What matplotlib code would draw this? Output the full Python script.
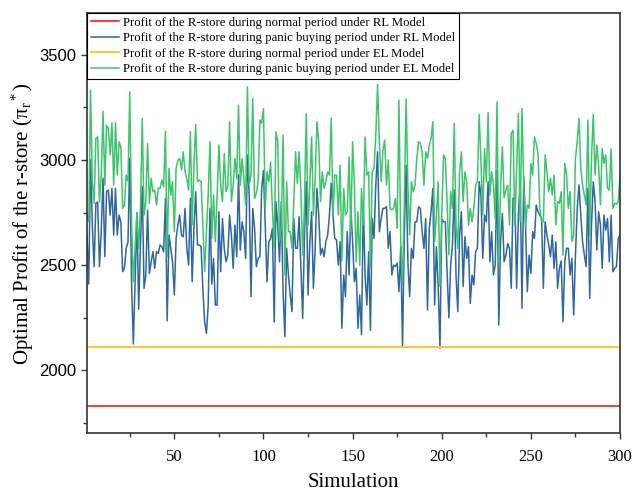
import numpy as np
import matplotlib
matplotlib.use("Agg")
import matplotlib.pyplot as plt
from matplotlib.ticker import MultipleLocator


OUTPUT_PATH = "out.png"

SIMULATIONS = list(range(1, 301))

# flat reference profits (normal period)
NORMAL_RL = 1830
NORMAL_EL = 2111

# panic buying period, RL model (x = 1..300)
PANIC_RL = [
    2650, 2410, 3000, 2690, 2493, 2794, 2800, 2493, 2660, 2913,
    2540, 2850, 2857, 2738, 2865, 2643, 2865, 2643, 2738, 2706,
    2469, 2485, 2580, 2610, 3008, 2421, 2125, 2420, 2750, 2290,
    2600, 2873, 2390, 2453,
    2762, 2460, 2516, 2564, 2485, 2564, 2556, 2596, 2588, 2564,
    2818, 2235, 2643, 2580, 2516, 2358, 2627, 2691, 2738, 2643,
    2635, 2770, 2580, 2500, 2818, 2421, 2675, 2849, 2596, 2596, 2588, 2390,
    2230, 2175, 2310, 2770, 2410, 2532, 2310, 2310, 2754, 2469,
    2722, 2580, 2516, 2548, 2738, 2643, 2485, 2690, 2540, 2930,
    2572, 2706, 2660, 2532, 3024, 2833, 2350, 2770, 2675, 2493,
    2532, 2540, 2865, 2950,
    2690, 2420, 2610, 2627, 2675, 2230, 2802, 2690, 2516, 2802,
    2374, 2160, 2580, 2453, 2358, 2279, 2722, 2580, 2580, 2730,
    2485, 2247, 2640, 2897, 2358, 2610, 2754, 2390, 2580, 2865,
    2738, 2548, 2580,
    2540, 2611, 2643, 2738, 2889, 2738, 2627, 2620, 2500, 2611,
    2200, 2453, 2350, 2659, 2453, 2770, 2611, 2421, 2485, 2200,
    2358, 2170, 2794, 2453, 2310, 2564, 2190, 2722, 2627, 2880,
    3039, 2659, 2722, 2770, 2770,
    2778, 2580, 2660, 2453, 2500, 2493, 2510, 2374, 2588, 2110,
    2640, 2976, 2515, 2350, 2580, 2532, 2706, 2706, 2778, 2770,
    2660, 2580, 2722, 2287, 2675, 2754, 2865, 2310, 2588, 2400,
    2105, 2720, 2706,
    2706, 2469, 2250, 2500, 2596, 2857, 2453, 2279, 2643, 2754,
    2398, 2635, 2532, 2588, 2318, 2453, 2406, 2564, 2580, 2897,
    2833, 2532, 2738, 2706, 2897, 2516, 2659, 2453, 2500, 2952,
    2215, 2611, 2746,
    2516, 2548, 2603, 2580, 2390, 2818, 2825, 2390, 2738, 2897,
    2295, 2920, 2690, 2374, 2548, 2461, 2659, 2627, 2786, 2754,
    2738, 2722, 2390, 2706, 2643, 2596, 2540, 2643, 2485, 2611,
    2390, 2485, 2520,
    2230, 2516, 2580, 2580, 2453, 2532, 2263, 2548, 2770, 2881,
    2738, 2611, 2548, 2493, 2865, 2342, 2691, 2897, 2802, 2572,
    2754, 2691, 2485, 2738, 2667, 2722, 2516, 2738, 2469, 2485,
    2493, 2627, 2643,
]

# panic buying period, EL model
PANIC_EL = [
    2738, 2707, 3332, 2900, 2794, 3103, 3110, 2800, 2928, 3232,
    2880, 3166, 3150, 3024, 3177, 2881, 3177, 2928, 3087, 3063,
    2770, 2786, 2928, 2900, 3324, 2707, 2421, 2580, 2746, 2580,
    2770, 3198, 2738, 2802,
    3079, 2794, 2913, 2849, 2857, 2786, 2865, 2865, 2905, 2873,
    3137, 2540, 2960, 2833, 2897, 2659, 2960, 3000, 3008, 2952,
    3039, 2944, 2913, 2857, 3134, 2691, 2976, 3169, 2897, 2905, 2897, 2691,
    2470, 2660, 2833, 3087, 2627, 2833, 2611, 2833, 3071, 2880,
    2802, 3031, 2849, 2873, 3182, 2802, 2880, 3007, 2913, 3261,
    2880, 3007, 2913, 2786, 3348, 2880, 2928, 3293, 2817, 2841,
    2897, 3190, 3174, 3245,
    2770, 2944, 2897, 2990, 2770, 2580, 3134, 3087, 2611, 2690,
    3118, 2453, 2897, 2659, 2659, 2580, 2802, 3039, 2889, 3039,
    2849, 2548, 2786, 3221, 2690, 2880, 3110, 2738, 2913, 3182,
    3087, 2802, 2944,
    2865, 2897, 2944, 2928, 3200, 2738, 2928, 2928, 2738, 2976,
    2520, 2865, 2738, 2754, 3015, 2659, 3087, 2880, 2516, 2754,
    2500, 2865, 2690, 3110, 2928, 2944, 2485, 2944, 2960, 3118,
    3359, 3087, 2897, 3047, 3094,
    2880, 3000, 2770, 2762, 2770, 2817, 2675, 3285, 2611, 2406,
    2802, 3290, 2880, 2643, 2897, 2849, 2880, 3007, 3087, 3079,
    3039, 2880, 3039, 3007, 3071, 3103, 3182, 2611, 2738, 2897,
    2398, 2738, 3024,
    3007, 2802, 2548, 2849, 2770, 3174, 2690, 2580, 2944, 3039,
    2802, 2944, 2897, 2690, 2770, 2706, 2770, 2880, 2897, 3217,
    2990, 2738, 3055, 2897, 3226, 2833, 2944, 2880, 2722, 3277,
    2516, 2865, 3063,
    2820, 2857, 2880, 2691, 3126, 3142, 2691, 2952, 3221, 2707,
    3245, 2880, 2683, 2786, 2770, 2984, 2928, 3110, 3079, 3031,
    2770, 2707, 2707, 3024, 2944, 2849, 2913, 2833, 2928, 2691,
    2802, 2794, 2849,
    2548, 2984, 2936, 2770, 2849, 2612, 2643, 3007, 3087, 3198,
    2960, 2880, 2833, 2786, 3190, 2643, 3007, 3217, 2928, 3071,
    2976, 2786, 3055, 2984, 3024, 2865, 2857, 3052, 2770, 2794,
    2790, 2802, 2936,
]

LABELS = [
    "Profit of the R-store during normal period under RL Model",
    "Profit of the R-store during panic buying period under RL Model",
    "Profit of the R-store during normal period under EL Model",
    "Profit of the R-store during panic buying period under EL Model",
]

COLORS = ["#ff1a1a", "#2f67a0", "#fcc83a", "#3ec46c"]

SERIF = ["Liberation Serif", "DejaVu Serif"]
SANS = ["Liberation Sans", "DejaVu Sans"]


def main():
    assert len(PANIC_RL) == 300, len(PANIC_RL)
    assert len(PANIC_EL) == 300, len(PANIC_EL)

    plt.rcParams["mathtext.fontset"] = "custom"
    plt.rcParams["mathtext.rm"] = "Liberation Serif"
    plt.rcParams["mathtext.it"] = "Liberation Serif"
    plt.rcParams["font.family"] = SERIF

    fig = plt.figure(figsize=(6.33, 4.93), dpi=100)
    ax = fig.add_axes([0.1374, 0.121, 0.8421, 0.853])

    x = np.array(SIMULATIONS)
    ax.plot(x, [NORMAL_RL] * len(x), color=COLORS[0], lw=1.2, label=LABELS[0])
    ax.plot(x, PANIC_RL, color=COLORS[1], lw=1.1, label=LABELS[1])
    ax.plot(x, [NORMAL_EL] * len(x), color=COLORS[2], lw=1.5, label=LABELS[2])
    ax.plot(x, PANIC_EL, color=COLORS[3], lw=1.1, label=LABELS[3])

    ax.set_xlim(1, 300)
    ax.set_ylim(1700, 3700)
    ax.xaxis.set_major_locator(MultipleLocator(50))
    ax.xaxis.set_minor_locator(MultipleLocator(25))
    ax.yaxis.set_major_locator(MultipleLocator(500))
    ax.yaxis.set_minor_locator(MultipleLocator(250))

    ax.tick_params(axis="both", which="major", direction="out", length=4, width=1.0,
                   color="#333333")
    ax.tick_params(axis="both", which="minor", direction="out", length=3, width=1.0,
                   color="#333333")
    ax.tick_params(axis="x", which="major", pad=7)
    ax.tick_params(axis="y", which="major", pad=4)

    for lab in ax.get_xticklabels():
        lab.set_fontfamily(SERIF)
        lab.set_fontsize(12)
    for lab in ax.get_yticklabels():
        lab.set_fontfamily(SANS)
        lab.set_fontsize(12)

    for spine in ax.spines.values():
        spine.set_linewidth(1.2)
        spine.set_color("#333333")

    ax.set_xlabel("Simulation", fontsize=15, labelpad=6)
    ax.set_ylabel("Optimal Profit of the r-store (π$_r$$^*$)",
                  fontsize=15, labelpad=2)

    leg = ax.legend(loc="upper left", bbox_to_anchor=(0, 1), borderaxespad=0,
                    fontsize=9.2, frameon=True, fancybox=False, framealpha=1,
                    edgecolor="black", handlelength=2.2, handletextpad=0.3,
                    labelspacing=0.28, borderpad=0.3)
    leg.get_frame().set_linewidth(0.8)

    fig.savefig(OUTPUT_PATH, dpi=100)
    plt.close(fig)


if __name__ == "__main__":
    main()
